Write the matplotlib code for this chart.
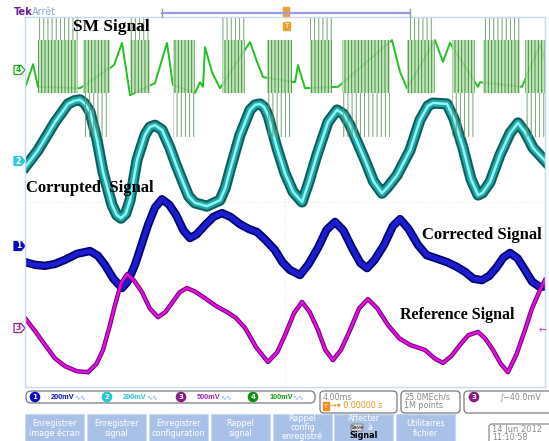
import matplotlib.pyplot as plt
from matplotlib.patches import Rectangle, FancyBboxPatch, Polygon, Circle

plt.rcParams['hatch.linewidth'] = 0.7

# time in ms (4 ms/div), amplitude in divisions (8 div screen)
# channel 2 : corrupted signal
ch2_t = [0.08, 1.00, 2.31, 3.31, 3.80, 4.23, 4.60, 5.00, 5.54, 6.00, 6.69, 7.05, 7.38,
         7.75, 8.08, 8.62, 9.23, 9.60, 10.00, 10.54, 11.15, 11.60, 12.15, 12.60,
         13.08, 14.00, 15.00, 15.40, 15.77, 16.54, 17.31, 17.70, 18.08, 18.40, 18.69,
         19.38, 20.00, 20.62, 21.31, 21.80, 22.46, 23.31, 24.00, 24.50, 25.00, 26.15,
         26.80, 27.46, 27.90, 28.62, 29.62, 30.38, 31.00, 31.38, 32.46, 33.00, 33.69,
         34.30, 34.85, 35.20, 35.77, 36.54, 37.31, 37.92, 38.46, 39.08, 40.00]
ch2_v = [0.78, 1.12, 1.73, 2.12, 2.19, 2.21, 2.13, 1.95, 1.34, 0.65, -0.06, -0.28, -0.35,
         -0.25, 0.04, 0.91, 1.45, 1.62, 1.66, 1.56, 1.17, 0.82, 0.43, 0.12,
         -0.02, -0.09, 0.04, 0.30, 0.69, 1.45, 1.99, 2.10, 2.12, 2.05, 1.88,
         1.17, 0.62, 0.22, 0.00, 0.40, 1.02, 1.73, 1.99, 1.90, 1.66, 0.91,
         0.45, 0.19, 0.32, 0.58, 1.12, 1.77, 2.08, 2.14, 2.12, 1.80, 1.17,
         0.50, 0.15, 0.20, 0.43, 1.02, 1.49, 1.71, 1.51, 1.17, 0.89]

# channel 1 : corrected signal
ch1_t = [0.00, 0.80, 1.54, 2.30, 3.08, 4.00, 5.00, 5.60, 6.15, 6.80, 7.46, 7.90, 8.46,
         9.46, 10.00, 10.54, 11.10, 11.62, 12.20, 12.69, 13.20, 13.85, 14.50, 15.15,
         15.80, 16.54, 17.20, 17.85, 18.50, 19.23, 19.80, 20.38, 21.15, 21.80, 22.54,
         23.20, 23.85, 24.50, 25.15, 25.80, 26.31, 26.90, 27.62, 28.30, 28.85, 29.50,
         30.23, 30.90, 31.54, 32.46, 33.20, 33.85, 34.50, 35.15, 35.70, 36.23, 36.80,
         37.31, 37.90, 38.46, 39.00, 39.62, 40.00]
ch1_v = [-1.30, -1.36, -1.38, -1.34, -1.25, -1.12, -1.06, -1.16, -1.36, -1.66, -1.86, -1.72, -1.36,
         -0.50, -0.12, 0.06, -0.06, -0.28, -0.62, -0.78, -0.70, -0.50, -0.32, -0.24,
         -0.32, -0.48, -0.58, -0.65, -0.82, -1.04, -1.30, -1.47, -1.58, -1.35, -0.99,
         -0.60, -0.43, -0.62, -0.99, -1.32, -1.43, -1.25, -0.93, -0.52, -0.37, -0.58,
         -0.93, -1.15, -1.21, -1.30, -1.40, -1.51, -1.66, -1.69, -1.60, -1.43, -1.20,
         -1.10, -1.22, -1.47, -1.72, -1.84, -1.82]

# channel 3 : reference signal
ch3_t = [0.00, 0.80, 1.54, 2.30, 3.08, 4.00, 4.85, 5.50, 6.00, 6.50, 6.92, 7.40, 7.85,
         8.40, 9.00, 9.60, 10.23, 10.80, 11.31, 11.90, 12.46, 13.10, 13.85, 14.70,
         15.54, 16.20, 16.92, 17.80, 18.69, 19.40, 20.00, 20.70, 21.31, 21.90, 22.54,
         23.10, 23.69, 24.30, 25.00, 25.70, 26.38, 27.10, 27.92, 28.80, 29.62, 30.77,
         31.50, 32.15, 32.80, 33.46, 34.10, 34.85, 35.40, 36.00, 36.60, 37.15, 37.80,
         38.46, 39.00, 39.62, 40.00]
ch3_v = [-2.51, -2.80, -3.09, -3.38, -3.55, -3.66, -3.68, -3.50, -3.20, -2.70, -2.23, -1.75, -1.56,
         -1.70, -1.95, -2.30, -2.49, -2.38, -2.18, -1.95, -1.86, -1.94, -2.08, -2.25,
         -2.38, -2.50, -2.72, -3.15, -3.46, -3.25, -2.88, -2.40, -2.16, -2.38, -2.77,
         -3.20, -3.42, -3.20, -2.77, -2.30, -2.10, -2.30, -2.66, -2.95, -3.09, -3.20,
         -3.38, -3.48, -3.33, -3.09, -2.88, -2.81, -2.95, -3.20, -3.50, -3.68, -3.30,
         -2.77, -2.30, -1.90, -1.69]

# channel 4 : SM signal (slow part between switching bursts)
ch4_t = [0.08, 0.62, 1.00, 4.23, 6.85, 7.46, 8.08, 10.00, 10.92, 11.38, 13.08,
         13.46, 13.69, 13.85, 14.38, 15.00, 17.31, 17.85, 18.31, 20.77, 21.00,
         21.54, 24.08, 28.23, 28.85, 29.38, 31.54, 32.15, 32.69, 34.85, 35.00,
         38.23, 38.85, 39.62, 40.00]
ch4_v = [2.53, 2.98, 2.49, 2.46, 2.96, 3.44, 2.31, 2.57, 3.44, 2.53, 2.36,
         2.59, 2.49, 3.35, 2.81, 2.46, 3.46, 3.03, 2.70, 2.59, 2.96,
         2.46, 2.49, 3.50, 2.81, 2.46, 3.50, 3.03, 3.44, 2.49, 2.59,
         2.49, 2.90, 3.39, 3.07]

# switching bursts of channel 4
burst_start = [1.00, 4.46, 8.08, 11.38, 15.15, 18.62, 21.92, 24.38, 29.38, 32.85, 35.23, 38.46]
burst_end = [4.08, 6.54, 9.62, 13.08, 16.92, 20.54, 23.62, 28.08, 31.54, 34.62, 38.08, 40.00]
burst_dir = [1, -1, 1, -1, 1, -1, 1, -1, 1, -1, 1, -1]
band_lo, band_hi = 2.36, 3.50
spike_top, spike_bot = 3.98, 1.41

W, H = 549, 441
fig = plt.figure(figsize=(W / 100, H / 100), dpi=100)
fig.patch.set_facecolor('white')

# screen area
ax = fig.add_axes([25 / W, 54 / H, 520 / W, 370 / H])
ax.set_xlim(0, 40)
ax.set_ylim(-4, 4)
ax.axis('off')
ax.axhline(0, color='#e4e8ee', lw=0.6, ls=':', zorder=0)
ax.axvline(20, color='#e4e8ee', lw=0.6, ls=':', zorder=0)

# SM signal
ax.plot(ch4_t, ch4_v, color='#22c022', lw=1.4, zorder=2)
for s, e, d in zip(burst_start, burst_end, burst_dir):
    ax.fill_between([s, e], band_lo, band_hi, facecolor='#b8e3ae', edgecolor='#2f7a2f',
                    hatch='|||||', linewidth=0, alpha=0.85, zorder=3)
    if d > 0:
        lo, hi = band_hi, spike_top
    else:
        lo, hi = spike_bot, band_lo
    ax.fill_between([s, e], lo, hi, facecolor='none', edgecolor='#6a956a',
                    hatch='||||', linewidth=0, alpha=0.9, zorder=6)

# corrupted signal (channel 2)
ax.plot(ch2_t, ch2_v, color='#0e5e5e', lw=8, solid_joinstyle='round', zorder=4)
ax.plot(ch2_t, ch2_v, color='#22a6a6', lw=5, solid_joinstyle='round', zorder=4)
ax.plot(ch2_t, ch2_v, color='#8ff7f7', lw=1.8, solid_joinstyle='round', zorder=4)

# corrected signal (channel 1)
ax.plot(ch1_t, ch1_v, color='#000070', lw=6, solid_joinstyle='round', zorder=4)
ax.plot(ch1_t, ch1_v, color='#1c1cd0', lw=3.5, solid_joinstyle='round', zorder=4)

# reference signal (channel 3)
ax.plot(ch3_t, ch3_v, color='#7a007a', lw=3.2, solid_joinstyle='round', zorder=5)
ax.plot(ch3_t, ch3_v, color='#e010e0', lw=1.7, solid_joinstyle='round', zorder=5)

# overlay in pixel units for the scope frame, labels and menus
ov = fig.add_axes([0, 0, 1, 1])
ov.set_xlim(0, W)
ov.set_ylim(H, 0)
ov.axis('off')
ov.patch.set_visible(False)

frame = '#c6daf0'
ov.plot([25, 545], [17, 17], color=frame, lw=1)
ov.plot([25, 25], [17, 387], color=frame, lw=1)
ov.plot([545, 545], [17, 387], color=frame, lw=1)
ov.plot([25, 545], [387, 387], color=frame, lw=1)

ov.text(14, 12, 'Tek', color='#6a1b9a', fontsize=7, fontweight='bold', va='center')
ov.text(32, 12, 'Arrêt', color='#8aa4dc', fontsize=7, va='center')
ov.plot([162, 410], [13, 13], color='#9a9ae8', lw=1.6)
ov.plot([162, 162], [9, 17], color='#999999', lw=1)
ov.plot([410, 410], [9, 17], color='#999999', lw=1)
ov.add_patch(Rectangle((283, 7), 6, 10, color='#f0a030'))
ov.add_patch(Rectangle((283, 22), 7, 8, color='#f0a030'))
ov.text(286.5, 26, 'T', color='white', fontsize=5, ha='center', va='center')

# labels
serif = 'Liberation Serif'
ov.text(73, 27, 'SM Signal', family=serif, fontweight='bold', fontsize=12.5, va='center')
ov.text(26, 188, 'Corrupted  Signal', family=serif, fontweight='bold', fontsize=12, va='center')
ov.text(422, 235, 'Corrected Signal', family=serif, fontweight='bold', fontsize=12, va='center')
ov.text(400, 315, 'Reference Signal', family=serif, fontweight='bold', fontsize=11.5, va='center')

# channel markers
markers = [('4', 70, '#18a818', 'white', '#18a818'),
           ('2', 161, '#30c8d8', '#30c8d8', 'white'),
           ('1', 246, '#0a0ac0', '#0a0ac0', 'white'),
           ('3', 328, '#902090', 'white', '#902090')]
for lab, cy, ec, fc, tc in markers:
    ov.add_patch(Polygon([(14, cy - 4.5), (21, cy - 4.5), (25, cy), (21, cy + 4.5), (14, cy + 4.5)],
                         closed=True, facecolor=fc, edgecolor=ec, lw=0.9))
    ov.text(18.5, cy, lab, color=tc, fontsize=5.5, ha='center', va='center', fontweight='bold')
ov.text(543, 330, '←', color='#cc33cc', fontsize=7, ha='center', va='center')

# channel settings row
ov.add_patch(FancyBboxPatch((26, 391), 289, 12, boxstyle='round,pad=0,rounding_size=5',
                            facecolor='white', edgecolor='#7a7a7a', lw=0.9))
chans = [('1', 35, '#0a0ad0', '#1010c0'), ('2', 107, '#20c8d8', '#20c0d0'),
         ('3', 181, '#8b1a8b', '#a020a0'), ('4', 253, '#109010', '#10a010')]
volts = ['200mV', '200mV', '500mV', '100mV']
for (lab, cx, cc, tc), vtxt in zip(chans, volts):
    ov.add_patch(Circle((cx, 397), 4.6, color=cc))
    ov.text(cx, 397.3, lab, color='white', fontsize=5, ha='center', va='center', fontweight='bold')
    ov.text(cx + 16, 397.5, vtxt, color=tc, fontsize=5.3, family='Liberation Sans',
            fontweight='bold', va='center')
    ov.text(cx + 39, 397.5, '∿∿', color='#7aa0e8', fontsize=5, va='center')

ov.add_patch(FancyBboxPatch((320, 391), 77, 22, boxstyle='round,pad=0,rounding_size=4',
                            facecolor='white', edgecolor='#7a7a7a', lw=0.9))
ov.text(323, 397, '4.00ms', color='#8a8a8a', fontsize=5.8, va='center')
ov.add_patch(Rectangle((323, 402), 6, 8, color='#f09020'))
ov.text(326, 406, 'T', color='white', fontsize=4.5, ha='center', va='center')
ov.text(329.5, 406, '→▾ 0.00000 s', color='#f09020', fontsize=5.8, va='center')

ov.add_patch(FancyBboxPatch((401, 391), 59, 22, boxstyle='round,pad=0,rounding_size=4',
                            facecolor='white', edgecolor='#7a7a7a', lw=0.9))
ov.text(404, 397, '25.0MEch/s', color='#8a8a8a', fontsize=5.8, va='center')
ov.text(404, 406, '1M points', color='#8a8a8a', fontsize=5.8, va='center')

ov.add_patch(FancyBboxPatch((464, 391), 90, 22, boxstyle='round,pad=0,rounding_size=4',
                            facecolor='white', edgecolor='#7a7a7a', lw=0.9))
ov.add_patch(Circle((474, 397), 4.6, color='#8b1a8b'))
ov.text(474, 397.3, '3', color='white', fontsize=5, ha='center', va='center', fontweight='bold')
ov.text(500, 397, '∫−40.0mV', color='#8a8a8a', fontsize=5.8, va='center')

# menu buttons
btn_x = [25, 87, 149, 211, 273, 334, 396]
btn_txt = [['Enregistrer', 'image écran'], ['Enregistrer', 'signal'],
           ['Enregistrer', 'configuration'], ['Rappel', 'signal'],
           ['Rappel', 'config', 'enregistré'], ['Affecter'], ['Utilitaires', 'fichier']]
for bx, lines in zip(btn_x, btn_txt):
    ov.add_patch(Rectangle((bx, 414), 59, 30, facecolor='#a9c1e6', edgecolor='#c8d8f0', lw=0.8))
    if len(lines) == 2:
        ys = [423, 433]
    else:
        ys = [418.5, 427.5, 436]
    for yy, line in zip(ys, lines):
        ov.text(bx + 29.5, yy, line, color='white', fontsize=5.8, ha='center', va='center')
ov.add_patch(FancyBboxPatch((351, 424), 12, 7, boxstyle='round,pad=0,rounding_size=1.5',
                            facecolor='#d8d8d8', edgecolor='#777777', lw=0.6))
ov.text(357, 427.5, 'Save', color='#555555', fontsize=3.5, ha='center', va='center', fontweight='bold')
ov.text(367, 427.5, 'à', color='white', fontsize=5.8, ha='left', va='center')
ov.text(363.5, 436, 'Signal', color='black', fontsize=5.8, ha='center', va='center', fontweight='bold')

ov.add_patch(FancyBboxPatch((489, 424), 64, 22, boxstyle='round,pad=0,rounding_size=3',
                            facecolor='white', edgecolor='#8a8a8a', lw=0.9))
ov.text(492, 429, '14 Jun 2012', color='#8a8a8a', fontsize=6, va='center')
ov.text(492, 437, '11:10:58', color='#8a8a8a', fontsize=5.8, va='center')

fig.savefig('out.png', dpi=100)
